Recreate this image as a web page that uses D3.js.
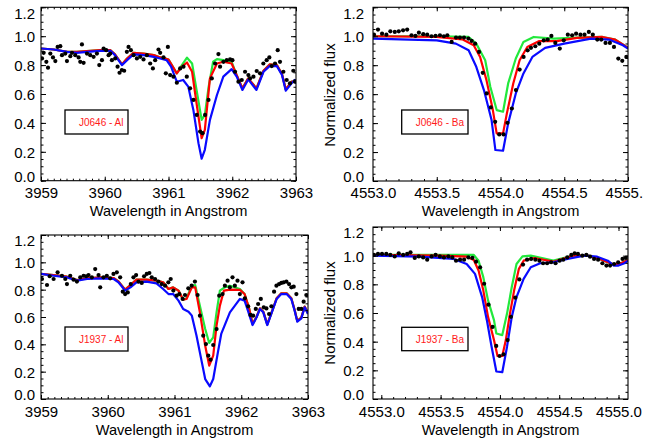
<!DOCTYPE html>
<html><head><meta charset="utf-8">
<script src="https://cdn.jsdelivr.net/npm/d3@7"></script>
<style>body{margin:0;background:#fff}svg{display:block}</style>
</head><body>
<svg id="c" width="667" height="439"></svg>
<script>
// ---------------- DATA ----------------
const alTicks = [3959, 3960, 3961, 3962, 3963];
const baTicks = [4553.0, 4553.5, 4554.0, 4554.5, 4555.0];
const fluxTicks = [0.0, 0.2, 0.4, 0.6, 0.8, 1.0, 1.2];
const labelsText = ["J0646 - Al", "J0646 - Ba", "J1937 - Al", "J1937 - Ba"];

// J0646 - Al
const j0646AlObs = [[3959.016,0.846],[3959.042,0.885],[3959.084,0.823],[3959.110,0.782],[3959.146,0.880],[3959.188,0.853],[3959.225,0.828],[3959.261,0.926],[3959.303,0.931],[3959.329,0.869],[3959.381,0.880],[3959.407,0.828],[3959.460,0.862],[3959.486,0.885],[3959.538,0.869],[3959.590,0.853],[3959.616,0.823],[3959.642,0.943],[3959.668,0.816],[3959.721,0.880],[3959.773,0.869],[3959.825,0.857],[3959.877,0.880],[3959.914,0.800],[3959.956,0.834],[3959.982,0.915],[3960.023,0.903],[3960.060,0.869],[3960.086,0.880],[3960.112,0.834],[3960.164,0.846],[3960.201,0.789],[3960.232,0.747],[3960.269,0.766],[3960.305,0.761],[3960.347,0.892],[3960.373,0.926],[3960.410,0.903],[3960.452,0.869],[3960.504,0.846],[3960.556,0.857],[3960.608,0.839],[3960.661,0.869],[3960.713,0.811],[3960.755,0.777],[3960.791,0.834],[3960.843,0.908],[3960.869,0.885],[3960.922,0.853],[3960.958,0.743],[3960.990,0.926],[3961.026,0.731],[3961.078,0.720],[3961.131,0.678],[3961.183,0.777],[3961.235,0.789],[3961.287,0.720],[3961.339,0.639],[3961.392,0.559],[3961.444,0.455],[3961.496,0.340],[3961.533,0.329],[3961.574,0.455],[3961.627,0.559],[3961.679,0.708],[3961.731,0.811],[3961.783,0.876],[3961.809,0.789],[3961.862,0.823],[3961.914,0.834],[3961.966,0.839],[3962.003,0.834],[3962.044,0.754],[3962.097,0.685],[3962.149,0.697],[3962.201,0.754],[3962.253,0.731],[3962.279,0.708],[3962.332,0.720],[3962.384,0.759],[3962.436,0.743],[3962.488,0.811],[3962.540,0.834],[3962.582,0.853],[3962.619,0.793],[3962.671,0.811],[3962.713,0.903],[3962.749,0.823],[3962.802,0.754],[3962.854,0.697],[3962.906,0.674],[3962.958,0.761],[3962.984,0.685]];
const j0646AlBlue = [[3959.0,0.915],[3959.20,0.908],[3959.41,0.892],[3959.56,0.885],[3959.72,0.892],[3959.93,0.899],[3960.09,0.899],[3960.16,0.869],[3960.27,0.800],[3960.35,0.834],[3960.45,0.874],[3960.61,0.869],[3960.77,0.857],[3960.87,0.846],[3960.97,0.834],[3961.04,0.789],[3961.13,0.685],[3961.23,0.697],[3961.31,0.651],[3961.39,0.490],[3961.47,0.260],[3961.52,0.152],[3961.57,0.214],[3961.65,0.421],[3961.76,0.593],[3961.86,0.720],[3961.99,0.772],[3962.07,0.720],[3962.16,0.628],[3962.25,0.701],[3962.38,0.628],[3962.49,0.754],[3962.59,0.795],[3962.70,0.793],[3962.78,0.731],[3962.84,0.623],[3962.93,0.674],[3962.98,0.697],[3963.0,0.674]];
const j0646AlRed = [[3959.0,0.915],[3959.20,0.908],[3959.41,0.892],[3959.56,0.892],[3959.93,0.903],[3960.09,0.903],[3960.16,0.874],[3960.27,0.805],[3960.35,0.846],[3960.45,0.885],[3960.61,0.880],[3960.77,0.869],[3960.87,0.853],[3960.95,0.846],[3961.00,0.839],[3961.13,0.743],[3961.21,0.789],[3961.29,0.818],[3961.37,0.754],[3961.44,0.536],[3961.52,0.294],[3961.57,0.352],[3961.65,0.708],[3961.76,0.811],[3961.86,0.823],[3961.99,0.811],[3962.07,0.731],[3962.16,0.639],[3962.25,0.708],[3962.38,0.639],[3962.49,0.761],[3962.59,0.805],[3962.70,0.800],[3962.78,0.738],[3962.84,0.632],[3962.93,0.685],[3963.0,0.685]];
const j0646AlGreen = [[3959.0,0.915],[3959.20,0.908],[3959.41,0.892],[3959.56,0.892],[3959.93,0.903],[3960.09,0.903],[3960.16,0.874],[3960.27,0.805],[3960.35,0.846],[3960.45,0.885],[3960.61,0.880],[3960.77,0.869],[3960.87,0.853],[3960.95,0.846],[3961.00,0.839],[3961.13,0.743],[3961.21,0.800],[3961.29,0.851],[3961.37,0.811],[3961.44,0.628],[3961.52,0.421],[3961.57,0.455],[3961.63,0.651],[3961.70,0.823],[3961.76,0.841],[3961.86,0.834],[3961.99,0.823],[3962.07,0.731],[3962.16,0.639],[3962.25,0.708],[3962.38,0.639],[3962.49,0.761],[3962.59,0.805],[3962.70,0.800],[3962.78,0.738],[3962.84,0.632],[3962.93,0.685],[3963.0,0.685]];

// J0646 - Ba
const j0646BaObs = [[4553.008,1.011],[4553.039,1.046],[4553.071,1.018],[4553.105,1.011],[4553.136,1.034],[4553.171,1.030],[4553.202,1.034],[4553.236,1.041],[4553.268,1.046],[4553.302,1.007],[4553.333,1.002],[4553.360,1.025],[4553.394,1.014],[4553.425,1.011],[4553.459,1.000],[4553.491,1.002],[4553.525,1.007],[4553.556,1.000],[4553.583,1.007],[4553.617,0.961],[4553.651,0.991],[4553.682,0.991],[4553.714,0.991],[4553.748,0.984],[4553.774,0.968],[4553.801,0.949],[4553.832,0.892],[4553.861,0.747],[4553.892,0.605],[4553.924,0.508],[4553.958,0.409],[4553.990,0.322],[4554.024,0.322],[4554.055,0.402],[4554.089,0.501],[4554.121,0.628],[4554.150,0.770],[4554.181,0.857],[4554.213,0.903],[4554.239,0.920],[4554.273,0.931],[4554.304,0.949],[4554.339,0.972],[4554.370,0.977],[4554.399,1.002],[4554.430,0.954],[4554.465,0.915],[4554.496,0.972],[4554.528,1.011],[4554.562,1.007],[4554.593,1.018],[4554.627,1.011],[4554.659,1.011],[4554.693,1.030],[4554.724,1.011],[4554.759,0.977],[4554.790,0.977],[4554.824,0.954],[4554.858,0.954],[4554.890,0.926],[4554.924,0.846],[4554.955,0.830],[4554.987,0.857]];
const j0646BaBlue = [[4553.0,0.984],[4553.50,0.972],[4553.65,0.949],[4553.75,0.903],[4553.81,0.789],[4553.87,0.628],[4553.93,0.421],[4553.96,0.214],[4554.02,0.209],[4554.06,0.398],[4554.12,0.605],[4554.18,0.743],[4554.25,0.857],[4554.35,0.920],[4554.50,0.949],[4554.71,0.984],[4554.85,0.977],[4554.96,0.938],[4555.0,0.915]];
const j0646BaRed = [[4553.0,1.0],[4553.50,0.995],[4553.70,0.979],[4553.79,0.938],[4553.84,0.857],[4553.89,0.697],[4553.94,0.490],[4553.97,0.329],[4554.02,0.329],[4554.05,0.467],[4554.10,0.674],[4554.15,0.834],[4554.21,0.926],[4554.30,0.966],[4554.44,0.966],[4554.60,0.989],[4554.80,0.995],[4554.90,0.977],[4555.0,0.920]];
const j0646BaGreen = [[4553.0,1.0],[4553.50,1.0],[4553.75,0.995],[4553.81,0.949],[4553.88,0.834],[4553.92,0.651],[4553.97,0.490],[4554.02,0.478],[4554.06,0.674],[4554.12,0.846],[4554.18,0.961],[4554.26,0.995],[4554.42,0.984],[4554.60,0.991],[4554.80,0.995],[4554.90,0.977],[4555.0,0.920]];

// J1937 - Al
const j1937AlObs = [[3959.015,0.878],[3959.090,0.834],[3959.130,0.898],[3959.189,0.878],[3959.249,0.927],[3959.314,0.902],[3959.364,0.878],[3959.389,0.841],[3959.438,0.902],[3959.488,0.873],[3959.538,0.859],[3959.588,0.890],[3959.638,0.902],[3959.677,0.898],[3959.712,0.907],[3959.762,0.890],[3959.812,0.951],[3959.862,0.907],[3959.887,0.817],[3959.936,0.890],[3959.986,0.902],[3960.036,0.883],[3960.086,0.915],[3960.136,0.927],[3960.186,0.890],[3960.225,0.785],[3960.260,0.768],[3960.300,0.780],[3960.345,0.841],[3960.385,0.890],[3960.425,0.907],[3960.460,0.859],[3960.509,0.849],[3960.544,0.898],[3960.584,0.915],[3960.624,0.922],[3960.659,0.890],[3960.709,0.878],[3960.758,0.859],[3960.808,0.841],[3960.858,0.829],[3960.908,0.854],[3960.943,0.878],[3960.983,0.793],[3961.032,0.756],[3961.072,0.768],[3961.122,0.732],[3961.157,0.761],[3961.207,0.810],[3961.257,0.829],[3961.306,0.859],[3961.346,0.761],[3961.381,0.610],[3961.431,0.463],[3961.471,0.402],[3961.506,0.317],[3961.540,0.288],[3961.580,0.395],[3961.630,0.512],[3961.670,0.756],[3961.720,0.768],[3961.755,0.829],[3961.795,0.866],[3961.829,0.817],[3961.869,0.890],[3961.904,0.829],[3961.944,0.866],[3961.979,0.768],[3962.019,0.854],[3962.054,0.737],[3962.103,0.678],[3962.138,0.615],[3962.178,0.610],[3962.218,0.659],[3962.253,0.695],[3962.293,0.732],[3962.337,0.671],[3962.377,0.663],[3962.417,0.622],[3962.452,0.678],[3962.492,0.785],[3962.527,0.829],[3962.567,0.841],[3962.601,0.849],[3962.636,0.854],[3962.676,0.859],[3962.716,0.841],[3962.751,0.817],[3962.786,0.822],[3962.826,0.768],[3962.861,0.659],[3962.900,0.659],[3962.935,0.712],[3962.975,0.761]];
const j1937AlBlue = [[3959.0,0.915],[3959.19,0.902],[3959.39,0.890],[3959.54,0.866],[3959.69,0.878],[3959.89,0.883],[3960.09,0.878],[3960.16,0.854],[3960.26,0.793],[3960.34,0.817],[3960.43,0.854],[3960.58,0.859],[3960.73,0.846],[3960.83,0.805],[3960.91,0.768],[3960.98,0.768],[3961.06,0.720],[3961.13,0.659],[3961.21,0.639],[3961.26,0.610],[3961.33,0.463],[3961.41,0.268],[3961.46,0.146],[3961.53,0.093],[3961.58,0.146],[3961.65,0.341],[3961.70,0.476],[3961.83,0.634],[3961.98,0.732],[3962.05,0.720],[3962.10,0.646],[3962.17,0.541],[3962.23,0.598],[3962.28,0.659],[3962.33,0.634],[3962.39,0.541],[3962.45,0.622],[3962.53,0.732],[3962.60,0.768],[3962.68,0.768],[3962.75,0.732],[3962.80,0.646],[3962.84,0.566],[3962.90,0.590],[3962.95,0.671],[3963.0,0.622]];
const j1937AlRed = [[3959.0,0.915],[3959.19,0.907],[3959.39,0.895],[3959.54,0.871],[3959.69,0.883],[3959.89,0.890],[3960.09,0.885],[3960.16,0.861],[3960.26,0.800],[3960.34,0.834],[3960.43,0.873],[3960.58,0.873],[3960.73,0.866],[3960.83,0.854],[3960.91,0.805],[3960.98,0.817],[3961.06,0.793],[3961.13,0.727],[3961.18,0.732],[3961.26,0.817],[3961.31,0.817],[3961.38,0.634],[3961.46,0.390],[3961.52,0.244],[3961.58,0.317],[3961.63,0.537],[3961.68,0.683],[3961.74,0.793],[3961.83,0.800],[3961.98,0.798],[3962.05,0.768],[3962.12,0.659],[3962.17,0.549],[3962.23,0.602],[3962.28,0.663],[3962.33,0.639],[3962.39,0.546],[3962.45,0.627],[3962.53,0.737],[3962.60,0.773],[3962.68,0.773],[3962.75,0.737],[3962.80,0.651],[3962.84,0.571],[3962.90,0.595],[3962.95,0.676],[3963.0,0.627]];
const j1937AlGreen = [[3959.0,0.915],[3959.19,0.907],[3959.39,0.895],[3959.54,0.871],[3959.69,0.883],[3959.89,0.890],[3960.09,0.885],[3960.16,0.861],[3960.26,0.800],[3960.34,0.834],[3960.43,0.873],[3960.58,0.873],[3960.73,0.866],[3960.83,0.854],[3960.91,0.805],[3960.98,0.817],[3961.06,0.793],[3961.13,0.727],[3961.18,0.737],[3961.26,0.829],[3961.31,0.834],[3961.38,0.683],[3961.46,0.512],[3961.52,0.410],[3961.58,0.451],[3961.63,0.634],[3961.68,0.793],[3961.75,0.817],[3961.83,0.829],[3961.98,0.805],[3962.05,0.768],[3962.12,0.659],[3962.17,0.549],[3962.23,0.602],[3962.28,0.663],[3962.33,0.639],[3962.39,0.546],[3962.45,0.627],[3962.53,0.737],[3962.60,0.773],[3962.68,0.773],[3962.75,0.737],[3962.80,0.651],[3962.84,0.571],[3962.90,0.595],[3962.95,0.676],[3963.0,0.627]];

// J1937 - Ba
const j1937BaObs = [[4552.938,1.005],[4552.972,1.012],[4553.006,1.012],[4553.042,1.012],[4553.076,1.005],[4553.113,0.995],[4553.147,1.016],[4553.184,1.005],[4553.218,1.012],[4553.246,1.023],[4553.282,0.984],[4553.316,0.995],[4553.353,0.988],[4553.387,0.972],[4553.424,0.995],[4553.458,1.005],[4553.494,0.995],[4553.528,0.988],[4553.565,0.995],[4553.599,0.988],[4553.630,0.965],[4553.664,0.972],[4553.698,0.972],[4553.734,0.988],[4553.768,0.984],[4553.799,0.958],[4553.833,0.919],[4553.867,0.804],[4553.904,0.658],[4553.938,0.503],[4553.969,0.370],[4553.997,0.300],[4554.031,0.312],[4554.065,0.411],[4554.093,0.573],[4554.130,0.707],[4554.164,0.834],[4554.195,0.938],[4554.229,0.972],[4554.263,0.977],[4554.299,0.972],[4554.333,0.965],[4554.364,0.947],[4554.398,0.947],[4554.432,0.954],[4554.469,0.947],[4554.503,0.965],[4554.534,0.972],[4554.568,0.988],[4554.602,1.005],[4554.630,1.016],[4554.658,1.012],[4554.695,1.000],[4554.729,1.005],[4554.760,0.993],[4554.794,0.977],[4554.828,0.972],[4554.864,0.947],[4554.898,0.931],[4554.929,0.931],[4554.963,0.942],[4554.997,0.954],[4555.034,0.977],[4555.062,0.984]];
const j1937BaBlue = [[4552.93,1.0],[4553.32,0.993],[4553.61,0.977],[4553.72,0.942],[4553.79,0.873],[4553.85,0.711],[4553.89,0.550],[4553.93,0.365],[4553.97,0.192],[4554.02,0.187],[4554.06,0.365],[4554.10,0.573],[4554.14,0.711],[4554.20,0.838],[4554.26,0.919],[4554.34,0.947],[4554.45,0.954],[4554.57,0.977],[4554.71,1.0],[4554.82,0.993],[4554.91,0.965],[4554.96,0.931],[4555.0,0.931],[4555.05,0.947],[4555.08,0.965]];
const j1937BaRed = [[4552.93,1.005],[4553.49,1.0],[4553.72,0.993],[4553.78,0.970],[4553.82,0.896],[4553.86,0.758],[4553.90,0.573],[4553.95,0.411],[4553.98,0.300],[4554.02,0.300],[4554.05,0.411],[4554.08,0.573],[4554.12,0.758],[4554.16,0.908],[4554.20,0.965],[4554.29,0.984],[4554.45,0.958],[4554.62,1.0],[4554.74,1.0],[4554.82,0.984],[4554.91,0.954],[4554.96,0.938],[4555.02,0.947],[4555.08,0.970]];
const j1937BaGreen = [[4552.93,1.005],[4553.78,1.005],[4553.82,0.965],[4553.86,0.850],[4553.90,0.688],[4553.95,0.550],[4553.97,0.457],[4554.02,0.446],[4554.06,0.596],[4554.10,0.781],[4554.14,0.942],[4554.19,0.995],[4554.26,1.0],[4554.45,0.965],[4554.62,1.0],[4554.74,1.0],[4554.82,0.984],[4554.91,0.954],[4554.96,0.938],[4555.02,0.947],[4555.08,0.970]];

// ---------------- DRAW ----------------
const svg = d3.select("#c");
const FONT = "'Liberation Sans', Arial, Helvetica, sans-serif";
svg.append("rect").attr("width",667).attr("height",439).attr("fill","#fff");
svg.append("defs").append("clipPath").attr("id","page").append("rect")
  .attr("x",0).attr("y",0).attr("width",643).attr("height",439);

const panels = [
  {box:[41,7.3,296,180.7], xdom:[3959,3963], xt:alTicks, fmt:d3.format("d"), tickBase:198, titleBase:215.5, ypad:6,
   leg:[65,110,63,24,79], label:labelsText[0], ylab:false, obs:j0646AlObs, g:j0646AlGreen, r:j0646AlRed, b:j0646AlBlue},
  {box:[373,7.3,628,181], xdom:[4553,4555], xt:baTicks, fmt:d3.format(".1f"), tickBase:198, titleBase:215.5, ypad:9,
   leg:[401.7,110,66.3,24,415.7], label:labelsText[1], ylab:true, ylabY:95, obs:j0646BaObs, g:j0646BaGreen, r:j0646BaRed, b:j0646BaBlue},
  {box:[41,235,308,399], xdom:[3959,3963], xt:alTicks, fmt:d3.format("d"), tickBase:417, titleBase:434.5, ypad:6,
   leg:[65,327,63,24,79], label:labelsText[2], ylab:false, obs:j1937AlObs, g:j1937AlGreen, r:j1937AlRed, b:j1937AlBlue},
  {box:[373,227,628,399], xdom:[4552.93,4555.08], xt:baTicks, fmt:d3.format(".1f"), tickBase:417, titleBase:434.5, ypad:9,
   leg:[401.7,327.3,66.3,23.4,415.7], label:labelsText[3], ylab:true, ylabY:313, obs:j1937BaObs, g:j1937BaGreen, r:j1937BaRed, b:j1937BaBlue}
];

panels.forEach((p,i)=>{
  const [x0,y0,x1,y1] = p.box;
  const x = d3.scaleLinear().domain(p.xdom).range([x0,x1]);
  const y = d3.scaleLinear().domain([0,1.2]).range([y1,y0]);
  const g = svg.append("g").attr("clip-path","url(#page)");
  const cid = "clip"+i;
  svg.select("defs").append("clipPath").attr("id",cid).append("rect")
    .attr("x",x0).attr("y",y0).attr("width",x1-x0).attr("height",y1-y0);
  const data = g.append("g").attr("clip-path",`url(#${cid})`);
  const line = d3.line().x(d=>x(d[0])).y(d=>y(d[1]));
  [[p.g,"#22e83c"],[p.r,"#ff0000"],[p.b,"#0a0aff"]].forEach(([arr,col])=>{
    data.append("path").datum(arr).attr("d",line).attr("fill","none")
      .attr("stroke",col).attr("stroke-width",2.2).attr("stroke-linejoin","round");
  });
  data.selectAll("circle").data(p.obs).join("circle")
    .attr("cx",d=>x(d[0])).attr("cy",d=>y(d[1])).attr("r",2.1).attr("fill","#000");

  const minorX = d3.range(Math.ceil(p.xdom[0]*10-1e-6), Math.floor(p.xdom[1]*10+1e-6)+1).map(d=>d/10);
  const minorY = d3.range(0,25).map(d=>d*0.05);
  const clean = s=>s.select(".domain").remove();
  g.append("g").attr("transform",`translate(0,${y1})`).call(d3.axisBottom(x).tickValues(minorX).tickSize(-2).tickFormat("")).call(clean);
  g.append("g").attr("transform",`translate(0,${y0})`).call(d3.axisTop(x).tickValues(minorX).tickSize(-2).tickFormat("")).call(clean);
  g.append("g").attr("transform",`translate(0,${y0})`).call(d3.axisTop(x).tickValues(p.xt).tickSize(-4).tickFormat("")).call(clean);
  const xb = g.append("g").attr("transform",`translate(0,${y1})`)
    .call(d3.axisBottom(x).tickValues(p.xt).tickSize(-4).tickFormat(p.fmt)).call(clean);
  xb.attr("font-family",FONT).attr("font-size",15);
  xb.selectAll("text").attr("dy",null).attr("y",p.tickBase-y1).attr("fill","#000");

  g.append("g").attr("transform",`translate(${x0},0)`).call(d3.axisLeft(y).tickValues(minorY).tickSize(-2.5).tickFormat("")).call(clean);
  g.append("g").attr("transform",`translate(${x1},0)`).call(d3.axisRight(y).tickValues(minorY).tickSize(-2.5).tickFormat("")).call(clean);
  g.append("g").attr("transform",`translate(${x1},0)`).call(d3.axisRight(y).tickValues(fluxTicks).tickSize(-5).tickFormat("")).call(clean);
  const yl = g.append("g").attr("transform",`translate(${x0},0)`)
    .call(d3.axisLeft(y).tickValues(fluxTicks).tickSize(-5).tickPadding(p.ypad).tickFormat(d3.format(".1f"))).call(clean);
  yl.attr("font-family",FONT).attr("font-size",15);
  yl.selectAll("text").attr("fill","#000").attr("dy","0.36em")
    .attr("y",d=> d===1.2 ? 5.5 : (d===0 ? -4.5 : 0));

  g.append("rect").attr("x",x0).attr("y",y0).attr("width",x1-x0).attr("height",y1-y0)
    .attr("fill","none").attr("stroke","#000").attr("stroke-width",1.1);

  g.append("text").attr("x",(x0+x1)/2).attr("y",p.titleBase).attr("text-anchor","middle")
    .attr("font-family",FONT).attr("font-size",14.6).attr("fill","#000").text("Wavelength in Angstrom");
  if (p.ylab) {
    g.append("text").attr("transform",`translate(335,${p.ylabY}) rotate(-90)`).attr("text-anchor","middle")
      .attr("font-family",FONT).attr("font-size",15).attr("fill","#000").text("Normalized flux");
  }
  const [lx,ly,lw,lh,tx] = p.leg;
  g.append("rect").attr("x",lx).attr("y",ly).attr("width",lw).attr("height",lh)
    .attr("fill","none").attr("stroke","#000").attr("stroke-width",1.3);
  g.append("text").attr("x",tx).attr("y",ly+lh/2).attr("dy","0.35em")
    .attr("font-family",FONT).attr("font-size",10).attr("fill","#ff1a1a").text(p.label);
});
</script>
</body></html>
